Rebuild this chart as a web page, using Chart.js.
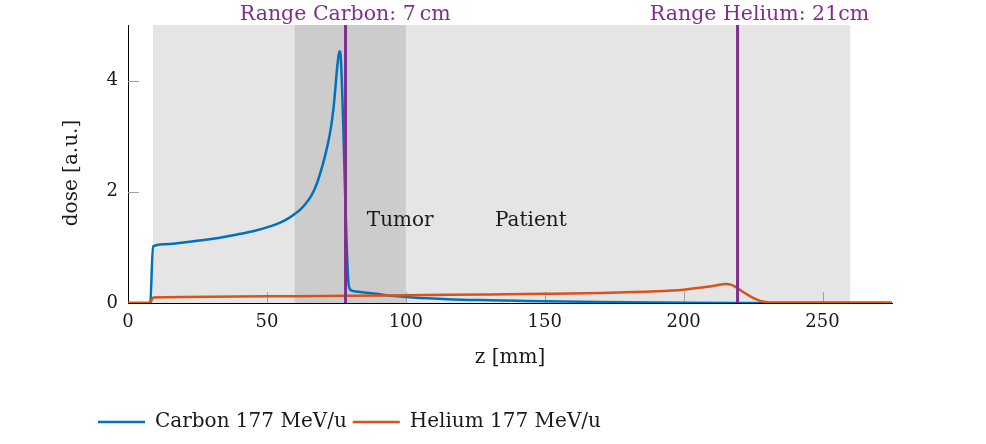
<!DOCTYPE html>
<html>
<head>
<meta charset="utf-8">
<script src="https://cdn.jsdelivr.net/npm/chart.js@4.4.0/dist/chart.umd.min.js"></script>
<style>
    html, body { margin: 0; padding: 0; background: #fff; }
</style>
</head>
<body>
<canvas id="chart" width="986" height="444"></canvas>
<script>
// depth z [mm] and dose [a.u.]
var carbonZ    = [0, 8, 9, 15, 20, 25, 30, 35, 40, 45, 50, 55, 58, 60, 62, 64, 66, 68, 70, 71, 72, 73, 74, 74.5, 75, 75.5, 76.1, 76.6, 79.5, 80.6, 85, 90, 95, 100, 110, 120, 130, 140, 150, 170, 190, 200, 220, 275];
var carbonDose = [0, 0, 1.02, 1.06, 1.09, 1.12, 1.15, 1.19, 1.24, 1.29, 1.36, 1.45, 1.53, 1.6, 1.68, 1.79, 1.93, 2.15, 2.47, 2.66, 2.88, 3.14, 3.52, 3.78, 4.08, 4.33, 4.53, 4.4, 0.3, 0.22, 0.19, 0.16, 0.13, 0.11, 0.08, 0.06, 0.05, 0.04, 0.03, 0.02, 0.01, 0.005, 0, 0];

var heliumZ    = [0, 8, 9, 20, 50, 80, 100, 130, 150, 170, 190, 200, 205, 210, 213, 215, 217, 219, 221, 224, 226, 228, 231, 235, 260, 275];
var heliumDose = [0, 0, 0.1, 0.11, 0.12, 0.13, 0.14, 0.155, 0.165, 0.18, 0.21, 0.24, 0.27, 0.3, 0.33, 0.34, 0.33, 0.28, 0.21, 0.12, 0.07, 0.03, 0.01, 0.01, 0.01, 0.005];

var seriesLabels = ['Carbon 177 MeV/u', 'Helium 177 MeV/u'];

var rangeZ      = [78.3, 219.4];
var rangeLabels = ['Range Carbon: 7\u2009cm', 'Range Helium: 21cm'];
var rangeLabelZ = [78.2, 227.3];

var patientZ = [9, 260];
var tumorZ   = [60, 100];
var regionLabels = ['Tumor', 'Patient'];
var regionLabelZ = [98, 145];
var regionLabelDose = 1.48;

var xTicks = [0, 50, 100, 150, 200, 250];
var yTicks = [0, 2, 4];
var xTitle = 'z [mm]';
var yTitle = 'dose [a.u.]';

var serif = "'DejaVu Serif', serif";
var blue = '#0072bd', orange = '#d95319', purple = '#7e2f8e';

function toPoints(xs, ys) {
    return xs.map(function (x, i) { return { x: x, y: ys[i] }; });
}

var datasets = [
    { label: seriesLabels[0], data: toPoints(carbonZ, carbonDose), borderColor: blue, backgroundColor: blue, borderWidth: 2.5, order: 2 },
    { label: seriesLabels[1], data: toPoints(heliumZ, heliumDose), borderColor: orange, backgroundColor: orange, borderWidth: 2.5, order: 1 }
];
rangeZ.forEach(function (z) {
    datasets.push({ label: '', data: [{ x: z, y: 0 }, { x: z, y: 5 }], borderColor: purple, borderWidth: 3, order: 0 });
});

var extras = {
    id: 'extras',
    beforeDraw: function (chart) {
        var ctx = chart.ctx, x = chart.scales.x, y = chart.scales.y;
        var top = y.getPixelForValue(5), bottom = y.getPixelForValue(0);
        ctx.save();
        ctx.fillStyle = '#e5e5e5';
        ctx.fillRect(x.getPixelForValue(patientZ[0]), top, x.getPixelForValue(patientZ[1]) - x.getPixelForValue(patientZ[0]), bottom - top);
        ctx.fillStyle = '#cccccc';
        ctx.fillRect(x.getPixelForValue(tumorZ[0]), top, x.getPixelForValue(tumorZ[1]) - x.getPixelForValue(tumorZ[0]), bottom - top);
        ctx.restore();
    },
    beforeDatasetsDraw: function (chart) {
        var ctx = chart.ctx, x = chart.scales.x, y = chart.scales.y, area = chart.chartArea;
        ctx.save();
        ctx.strokeStyle = '#a0a0a0';
        ctx.lineWidth = 1;
        ctx.beginPath();
        xTicks.slice(1).forEach(function (v) {
            var px = Math.round(x.getPixelForValue(v)) + 0.5;
            ctx.moveTo(px, area.bottom);
            ctx.lineTo(px, area.bottom - 11);
        });
        yTicks.slice(1).forEach(function (v) {
            var py = Math.round(y.getPixelForValue(v)) + 0.5;
            ctx.moveTo(area.left, py);
            ctx.lineTo(area.left + 11, py);
        });
        ctx.stroke();
        ctx.fillStyle = '#1a1a1a';
        ctx.font = '20px ' + serif;
        ctx.textAlign = 'center';
        ctx.textBaseline = 'middle';
        regionLabels.forEach(function (t, i) {
            ctx.fillText(t, x.getPixelForValue(regionLabelZ[i]), y.getPixelForValue(regionLabelDose));
        });
        ctx.restore();
    },
    afterDraw: function (chart) {
        var ctx = chart.ctx, x = chart.scales.x, area = chart.chartArea;
        ctx.save();
        ctx.fillStyle = purple;
        ctx.font = '20.5px ' + serif;
        ctx.textAlign = 'center';
        ctx.textBaseline = 'middle';
        rangeLabels.forEach(function (t, i) {
            ctx.fillText(t, x.getPixelForValue(rangeLabelZ[i]), area.top - 10);
        });
        // y axis title, sits a bit below the middle of the axis like the original
        ctx.fillStyle = '#1a1a1a';
        ctx.font = '20px ' + serif;
        ctx.translate(72, 173);
        ctx.rotate(-Math.PI / 2);
        ctx.fillText(yTitle, 0, 0);
        ctx.restore();
    },
    afterLayout: function (chart) {
        chart.legend.left += 42;
    }
};

new Chart(document.getElementById('chart'), {
    type: 'line',
    data: { datasets: datasets },
    options: {
        responsive: false,
        animation: false,
        events: [],
        layout: { padding: { left: 50, right: 94, top: 25, bottom: 2 } },
        elements: {
            point: { radius: 0 },
            line: { cubicInterpolationMode: 'monotone', borderCapStyle: 'butt' }
        },
        scales: {
            x: {
                type: 'linear',
                min: 0,
                max: 275,
                grid: { display: false, drawTicks: false },
                border: { display: true, color: '#000', width: 1 },
                ticks: { stepSize: 50, includeBounds: false, padding: 9, color: '#1a1a1a', font: { family: serif, size: 18 } },
                title: { display: true, text: xTitle, color: '#1a1a1a', font: { family: serif, size: 20 }, padding: { top: 0, bottom: 36 } },
                afterFit: function (scale) { scale.height = 103; }
            },
            y: {
                type: 'linear',
                min: 0,
                max: 5,
                grid: { display: false, drawTicks: false },
                border: { display: true, color: '#000', width: 1 },
                ticks: { stepSize: 2, includeBounds: false, padding: 10, color: '#1a1a1a', font: { family: serif, size: 18 } },
                afterFit: function (scale) { scale.width = 78; }
            }
        },
        plugins: {
            tooltip: { enabled: false },
            legend: {
                position: 'bottom',
                align: 'start',
                labels: {
                    filter: function (item) { return item.datasetIndex < 2; },
                    sort: function (a, b) { return a.datasetIndex - b.datasetIndex; },
                    usePointStyle: true,
                    pointStyle: 'line',
                    pointStyleWidth: 47,
                    padding: 6,
                    color: '#1a1a1a',
                    font: { family: serif, size: 20 }
                }
            }
        }
    },
    plugins: [extras]
});
</script>
</body>
</html>
